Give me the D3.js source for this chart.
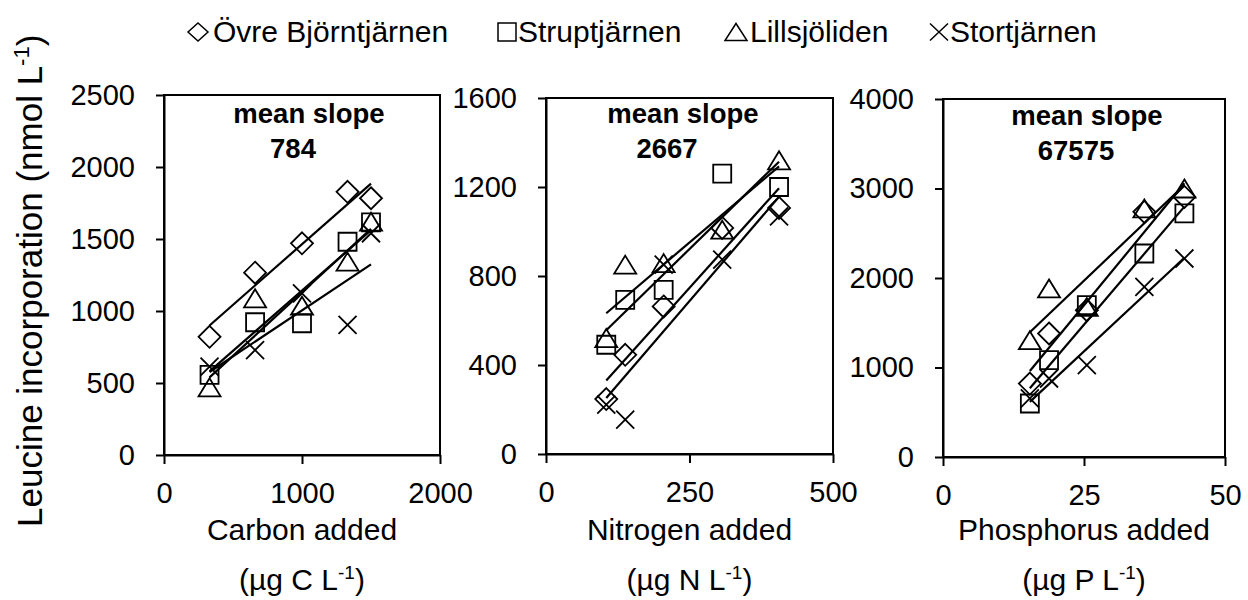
<!DOCTYPE html>
<html>
<head>
<meta charset="utf-8">
<script src="https://cdn.jsdelivr.net/npm/d3@7"></script>
<style>
  body { margin: 0; background: #fff; }
  svg { display: block; font-family: "Liberation Sans", Arial, sans-serif; }
</style>
</head>
<body>
<script>
const SITES = ["Övre Björntjärnen", "Struptjärnen", "Lillsjöliden", "Stortjärnen"];
const SITE_MARKERS = ["diamond", "square", "triangle", "cross"];

// carbon panel (µg C/L added vs leucine incorporation)
const CARBON_ADDED = [330, 660, 1000, 1330, 1500];
const CARBON_OVRE = [821, 1266, 1470, 1828, 1783];
const CARBON_STRUPT = [556, 922, 915, 1481, 1616];
const CARBON_LILL = [470, 1088, 1037, 1343, 1620];
const CARBON_STORT = [613, 729, 1123, 903, 1540];
const CARBON_X_TICKS = [0, 1000, 2000];
const CARBON_Y_TICKS = [0, 500, 1000, 1500, 2000, 2500];

// nitrogen panel
const NITROGEN_ADDED = [105, 138, 205, 307, 406];
const NITROGEN_OVRE = [247, 446, 663, 1016, 1106];
const NITROGEN_STRUPT = [491, 693, 738, 1260, 1200];
const NITROGEN_LILL = [521, 851, 858, 1008, 1320];
const NITROGEN_STORT = [222, 155, 851, 874, 1068];
const NITROGEN_X_TICKS = [0, 250, 500];
const NITROGEN_Y_TICKS = [0, 400, 800, 1200, 1600];

// phosphorus panel
const PHOSPHORUS_ADDED = [15.4, 18.8, 25.5, 35.7, 42.8];
const PHOSPHORUS_OVRE = [821, 1380, 1640, 2739, 2906];
const PHOSPHORUS_STRUPT = [598, 1082, 1696, 2274, 2721];
const PHOSPHORUS_LILL = [1305, 1883, 1677, 2777, 3000];
const PHOSPHORUS_STORT = [654, 877, 1026, 1901, 2218];
const PHOSPHORUS_X_TICKS = [0, 25, 50];
const PHOSPHORUS_Y_TICKS = [0, 1000, 2000, 3000, 4000];

const MEAN_SLOPES = ["784", "2667", "67575"];

const FONT = '"Liberation Sans", Arial, sans-serif';

const panels = [
    {
        xs: CARBON_ADDED,
        series: [CARBON_OVRE, CARBON_STRUPT, CARBON_LILL, CARBON_STORT],
        xTicks: CARBON_X_TICKS, yTicks: CARBON_Y_TICKS,
        title: "Carbon added", unit: "C",
        slope: MEAN_SLOPES[0],
        box: { left: 164, right: 440, bottom: 455, top: 95 },
        note: { dx1: 145, dy1: 28, dx2: 129, dy2: 63 },
    },
    {
        xs: NITROGEN_ADDED,
        series: [NITROGEN_OVRE, NITROGEN_STRUPT, NITROGEN_LILL, NITROGEN_STORT],
        xTicks: NITROGEN_X_TICKS, yTicks: NITROGEN_Y_TICKS,
        title: "Nitrogen added", unit: "N",
        slope: MEAN_SLOPES[1],
        box: { left: 546, right: 833, bottom: 454, top: 98 },
        note: { dx1: 137, dy1: 25, dx2: 121, dy2: 60 },
    },
    {
        xs: PHOSPHORUS_ADDED,
        series: [PHOSPHORUS_OVRE, PHOSPHORUS_STRUPT, PHOSPHORUS_LILL, PHOSPHORUS_STORT],
        xTicks: PHOSPHORUS_X_TICKS, yTicks: PHOSPHORUS_Y_TICKS,
        title: "Phosphorus added", unit: "P",
        slope: MEAN_SLOPES[2],
        box: { left: 943, right: 1225, bottom: 457, top: 99 },
        note: { dx1: 144, dy1: 26, dx2: 133, dy2: 61 },
    },
];

// marker outline centred on 0,0 with given box size
function markerPath(type, w, h) {
    const a = w / 2, b = h / 2;
    switch (type) {
        case "diamond": return `M0,${-b}L${a},0L0,${b}L${-a},0Z`;
        case "square": return `M${-a},${-b}H${a}V${b}H${-a}Z`;
        case "triangle": return `M0,${-b}L${a},${b}H${-a}Z`;
        default: return `M${-a},${-b}L${a},${b}M${a},${-b}L${-a},${b}`;
    }
}
const MARKER_SIZE = {
    diamond: [22, 22], square: [18, 18], triangle: [22, 18], cross: [18, 18],
};

function linearFit(xs, ys) {
    const mx = d3.mean(xs), my = d3.mean(ys);
    let sxy = 0, sxx = 0;
    xs.forEach((x, i) => {
        sxy += (x - mx) * (ys[i] - my);
        sxx += (x - mx) * (x - mx);
    });
    const slope = sxy / sxx;
    return { slope, intercept: my - slope * mx };
}

const svg = d3.select("body").append("svg")
    .attr("width", 1248)
    .attr("height", 600);

panels.forEach(p => {
    const b = p.box;
    const x = d3.scaleLinear()
        .domain([p.xTicks[0], p.xTicks[p.xTicks.length - 1]])
        .range([b.left, b.right]);
    const y = d3.scaleLinear()
        .domain([p.yTicks[0], p.yTicks[p.yTicks.length - 1]])
        .range([b.bottom, b.top]);

    const g = svg.append("g");

    // frame
    g.append("rect")
        .attr("x", b.left).attr("y", b.top)
        .attr("width", b.right - b.left).attr("height", b.bottom - b.top)
        .attr("fill", "none").attr("stroke", "#000").attr("stroke-width", 2);

    const xAxis = g.append("g")
        .attr("transform", `translate(0,${b.bottom})`)
        .call(d3.axisBottom(x).tickValues(p.xTicks).tickFormat(d3.format("d"))
            .tickSize(9).tickSizeOuter(0).tickPadding(18));
    const yAxis = g.append("g")
        .attr("transform", `translate(${b.left},0)`)
        .call(d3.axisLeft(y).tickValues(p.yTicks).tickFormat(d3.format("d"))
            .tickSize(8).tickSizeOuter(0).tickPadding(21));

    [xAxis, yAxis].forEach(ax => {
        ax.select(".domain").attr("stroke-width", 2);
        ax.selectAll(".tick line").attr("stroke-width", 2);
        ax.selectAll(".tick text")
            .style("font-family", FONT)
            .style("font-size", "29px")
            .attr("fill", "#000");
    });

    // regression lines
    p.series.forEach(ys => {
        const fit = linearFit(p.xs, ys);
        const x0 = d3.min(p.xs), x1 = d3.max(p.xs);
        g.append("line")
            .attr("x1", x(x0)).attr("y1", y(fit.intercept + fit.slope * x0))
            .attr("x2", x(x1)).attr("y2", y(fit.intercept + fit.slope * x1))
            .attr("stroke", "#000").attr("stroke-width", 2.2);
    });

    // markers
    p.series.forEach((ys, si) => {
        const type = SITE_MARKERS[si];
        const [w, h] = MARKER_SIZE[type];
        g.selectAll(null)
            .data(ys.map((v, i) => [p.xs[i], v]))
            .enter().append("path")
            .attr("transform", d => `translate(${x(d[0])},${y(d[1])})`)
            .attr("d", markerPath(type, w, h))
            .attr("fill", "none")
            .attr("stroke", "#000")
            .attr("stroke-width", 1.8);
    });

    // mean slope note
    g.append("text")
        .attr("x", b.left + p.note.dx1).attr("y", b.top + p.note.dy1)
        .attr("text-anchor", "middle")
        .style("font-family", FONT).style("font-size", "27.5px").style("font-weight", "bold")
        .text("mean slope");
    g.append("text")
        .attr("x", b.left + p.note.dx2).attr("y", b.top + p.note.dy2)
        .attr("text-anchor", "middle")
        .style("font-family", FONT).style("font-size", "27.5px").style("font-weight", "bold")
        .text(p.slope);

    // x titles
    const cx = (b.left + b.right) / 2;
    g.append("text")
        .attr("x", cx).attr("y", 540)
        .attr("text-anchor", "middle")
        .style("font-family", FONT).style("font-size", "30px")
        .text(p.title);
    const unit = g.append("text")
        .attr("x", cx).attr("y", 590)
        .attr("text-anchor", "middle")
        .style("font-family", FONT).style("font-size", "30px");
    unit.append("tspan").text(`(µg ${p.unit} L`);
    unit.append("tspan").attr("dy", -11).style("font-size", "19px").text("-1");
    unit.append("tspan").attr("dy", 11).text(")");
});

// y title
const yTitle = svg.append("text")
    .attr("transform", "translate(42,527) rotate(-90)")
    .attr("text-anchor", "start")
    .style("font-family", FONT).style("font-size", "35px");
yTitle.append("tspan").text("Leucine incorporation (nmol L");
yTitle.append("tspan").attr("dy", -13).style("font-size", "22px").text("-1");
yTitle.append("tspan").attr("dy", 13).text(")");

// legend
const LEGEND_POS = [
    { sym: 198, text: 213 },
    { sym: 507, text: 518 },
    { sym: 736, text: 750 },
    { sym: 939, text: 950 },
];
const LEGEND_SIZE = {
    diamond: [20, 18], square: [18, 18], triangle: [22, 17], cross: [18, 17],
};
const legend = svg.append("g");
SITES.forEach((name, i) => {
    const type = SITE_MARKERS[i];
    const [w, h] = LEGEND_SIZE[type];
    legend.append("path")
        .attr("transform", `translate(${LEGEND_POS[i].sym},32)`)
        .attr("d", markerPath(type, w, h))
        .attr("fill", "none").attr("stroke", "#000").attr("stroke-width", 1.5);
    legend.append("text")
        .attr("x", LEGEND_POS[i].text).attr("y", 42)
        .style("font-family", FONT).style("font-size", "30px")
        .text(name);
});
</script>
</body>
</html>
